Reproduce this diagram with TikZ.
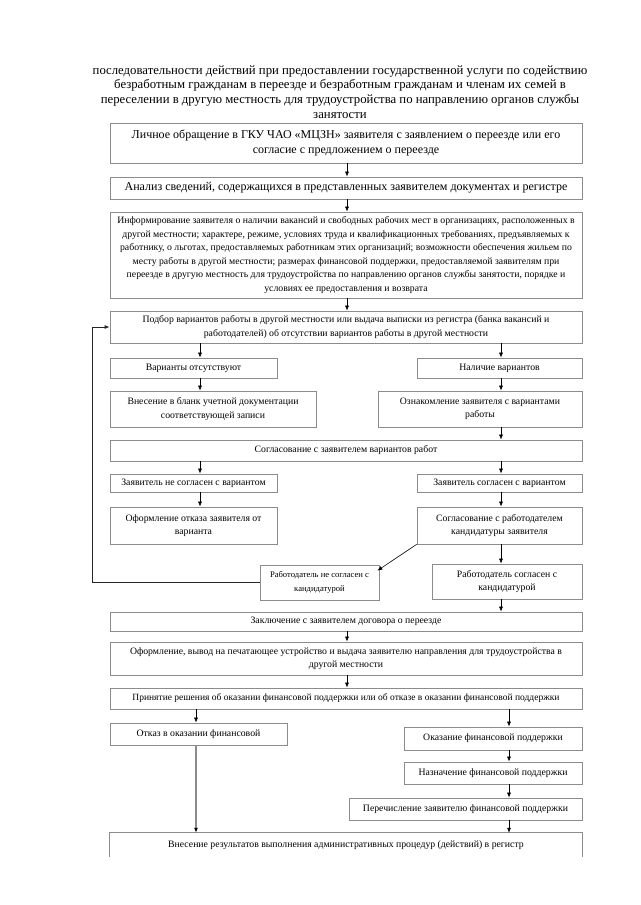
\documentclass[tikz,border=0pt]{standalone}
\usepackage{fontspec}
\setmainfont{Liberation Serif}
\usetikzlibrary{arrows.meta}
\definecolor{boxgray}{gray}{0.55}
\newcommand\ftitle{\fontsize{12.75}{14.8}\selectfont}
\newcommand\fbig{\fontsize{12}{15.5}\selectfont}
\newcommand\fsmall{\fontsize{9.75}{13.6}\selectfont}
\newcommand\fsmaller{\fontsize{9.5}{13.6}\selectfont}
\newcommand\fnarrow{\fontsize{8.6}{14}\selectfont}
\begin{document}
\begin{tikzpicture}[x=1pt,y=-1pt,
  box/.style={draw=boxgray, line width=0.7pt, inner sep=0pt, align=center, font=\fsmall},
  arr/.style={-{Latex[length=5pt,width=4pt]}, line width=0.6pt, black}]
\useasboundingbox (0,0) rectangle (640,905);
\fill[white] (0,0) rectangle (640,905);

\node[align=center, font=\ftitle, inner sep=0pt] (title) at (340,92) {последовательности действий при предоставлении государственной услуги по содействию\\безработным гражданам в переезде и безработным гражданам и членам их семей в\\переселении в другую местность для трудоустройства по направлению органов службы\\занятости};

\coordinate (cl) at (200,0);
\coordinate (cm) at (347,0);
\coordinate (cr) at (501,0);
\coordinate (cl2) at (196,0);
\coordinate (cr2) at (509,0);
\coordinate (cloop) at (92,0);

\node[box, font=\fbig, minimum width=472pt, minimum height=40pt] (b1) at (346,143) {Личное обращение в ГКУ ЧАО «МЦЗН» заявителя с заявлением о переезде или его\\согласие с предложением о переезде};
\node[box, font=\fbig, minimum width=472pt, minimum height=22pt] (b2) at (346,188) {Анализ сведений, содержащихся в представленных заявителем документах и регистре};
\node[box, minimum width=472pt, minimum height=86pt] (b3) at (346,255) {Информирование заявителя о наличии вакансий и свободных рабочих мест в организациях, расположенных в\\другой местности; характере, режиме, условиях труда и квалификационных требованиях, предъявляемых к\\работнику, о льготах, предоставляемых работникам этих организаций; возможности обеспечения жильем по\\месту работы в другой местности; размерах финансовой поддержки, предоставляемой заявителям при\\переезде в другую местность для трудоустройства по направлению органов службы занятости, порядке и\\условиях ее предоставления и возврата};
\node[box, minimum width=472pt, minimum height=32pt] (b4) at (346,327) {Подбор вариантов работы в другой местности или выдача выписки из регистра (банка вакансий и\\работодателей) об отсутствии вариантов работы в другой местности};
\node[box, minimum width=167pt, minimum height=20pt] (b5l) at (193.5,368) {Варианты отсутствуют};
\node[box, minimum width=165pt, minimum height=20pt] (b5r) at (499.5,368) {Наличие вариантов};
\node[box, minimum width=206pt, minimum height=36pt] (b6l) at (213,409) {Внесение в бланк учетной документации\\соответствующей записи};
\node[box, minimum width=204pt, minimum height=36pt] (b6r) at (480,409) {Ознакомление заявителя с вариантами\\работы};
\node[box, minimum width=472pt, minimum height=21pt] (b7) at (346,450.5) {Согласование с заявителем вариантов работ};
\node[box, minimum width=167pt, minimum height=18pt] (b8l) at (193.5,483) {Заявитель не согласен с вариантом};
\node[box, minimum width=165pt, minimum height=18pt] (b8r) at (499.5,483) {Заявитель согласен с вариантом};
\node[box, minimum width=167pt, minimum height=37pt] (b9l) at (193.5,525.5) {Оформление отказа заявителя от\\варианта};
\node[box, minimum width=165pt, minimum height=37pt] (b9r) at (499.5,525.5) {Согласование с работодателем\\кандидатуры заявителя};
\node[box, font=\fnarrow, minimum width=119pt, minimum height=35pt] (b10l) at (319.5,582.5) {Работодатель не согласен с\\кандидатурой};
\node[box, minimum width=150pt, minimum height=35pt] (b10r) at (507,581.5) {Работодатель согласен с\\кандидатурой};
\node[box, minimum width=472pt, minimum height=19pt] (b11) at (346,621.5) {Заключение с заявителем договора о переезде};
\node[box, minimum width=472pt, minimum height=33pt] (b12) at (346,658.5) {Оформление, вывод на печатающее устройство и выдача заявителю направления для трудоустройства в\\другой местности};
\node[box, font=\fsmaller, minimum width=472pt, minimum height=21pt] (b13) at (346,698.5) {Принятие решения об оказании финансовой поддержки или об отказе в оказании финансовой поддержки};
\node[box, minimum width=177pt, minimum height=22pt] (b14l) at (198.5,734) {Отказ в оказании финансовой};
\node[box, minimum width=178pt, minimum height=23pt] (b14r) at (493,738.5) {Оказание финансовой поддержки};
\node[box, minimum width=178pt, minimum height=22pt] (b15) at (493,773) {Назначение финансовой поддержки};
\node[box, minimum width=233pt, minimum height=22pt] (b16) at (465.5,809) {Перечисление заявителю финансовой поддержки};
\node[font=\fsmall, inner sep=0pt, minimum width=472pt, minimum height=24pt] (b17) at (346,845) {Внесение результатов выполнения административных процедур (действий) в регистр};
\draw[boxgray, line width=0.7pt] (b17.south west) -- (b17.north west) -- (b17.north east) -- (b17.south east);

% arrows
\draw[arr] (cm |- b1.south) -- (cm |- b2.north);
\draw[arr] (cm |- b2.south) -- (cm |- b3.north);
\draw[arr] (cm |- b3.south) -- (cm |- b4.north);
\draw[arr] (cl |- b4.south) -- (cl |- b5l.north);
\draw[arr] (cr |- b4.south) -- (cr |- b5r.north);
\draw[arr] (cl |- b5l.south) -- (cl |- b6l.north);
\draw[arr] (cr |- b5r.south) -- (cr |- b6r.north);
\draw[arr] (cr |- b6r.south) -- (cr |- b7.north);
\draw[arr] (cl |- b7.south) -- (cl |- b8l.north);
\draw[arr] (cr |- b7.south) -- (cr |- b8r.north);
\draw[arr] (cl |- b8l.south) -- (cl |- b9l.north);
\draw[arr] (cr |- b8r.south) -- (cr |- b9r.north);
\draw[arr] (cr |- b9r.south) -- (cr |- b10r.north);
\draw[arr] (b9r.south west) -- ([xshift=-2pt,yshift=-6pt]b10l.north east);
\draw[arr, line width=0.9pt, black!85] (b10l.west) -- (cloop |- b10l.west) -- (cloop |- b4.west) -- (b4.west);
\draw[arr] (cr |- b10r.south) -- (cr |- b11.north);
\draw[arr] (cm |- b11.south) -- (cm |- b12.north);
\draw[arr] (cm |- b12.south) -- (cm |- b13.north);
\draw[arr] (cl2 |- b13.south) -- (cl2 |- b14l.north);
\draw[arr] (cr2 |- b13.south) -- (cr2 |- b14r.north);
\draw[arr] (cr2 |- b14r.south) -- (cr2 |- b15.north);
\draw[arr] (cr2 |- b15.south) -- (cr2 |- b16.north);
\draw[arr] (cr2 |- b16.south) -- (cr2 |- b17.north);
\draw[-{Latex[length=5pt,width=4pt,color=black]}, boxgray, line width=1.4pt] (cl2 |- b14l.south) -- (cl2 |- b17.north);
\end{tikzpicture}
\end{document}
